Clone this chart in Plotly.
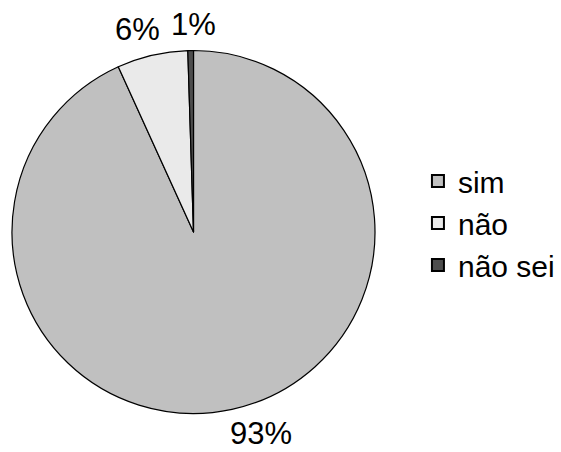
import math
import plotly.graph_objects as go

categories = ["sim", "não", "não sei"]
values = [93.2, 6.3, 0.5]
labels_text = ["93%", "6%", "1%"]
colors = ["#c0c0c0", "#eaeaea", "#4d4d4d"]

W, H = 561, 452
cx, cy, r = 193.5, 232, 181.5
FONT = "Liberation Sans, Arial, sans-serif"
# small per-label pixel nudges (layout only)
nudges = [(-5, -2), (11, 1), (3, 0)]

fig = go.Figure(go.Pie(
    labels=categories,
    values=values,
    textinfo="none",
    sort=False,
    direction="clockwise",
    rotation=0,
    marker=dict(colors=colors, line=dict(color="black", width=1.2)),
    domain=dict(x=[(cx - r) / W, (cx + r) / W], y=[(H - cy - r) / H, (H - cy + r) / H]),
    showlegend=True,
))

# outside labels placed at each slice's mid angle
total = sum(values)
cum = 0.0
gap = 8
for v, t, (ndx, ndy) in zip(values, labels_text, nudges):
    mid = (cum + v / 2) / total * 2 * math.pi
    cum += v
    s, c = math.sin(mid), math.cos(mid)
    px = cx + (r + gap) * s + ndx
    py = cy - (r + gap) * c + ndy
    xa = "center" if abs(s) < 0.1 else ("left" if s > 0 else "right")
    ya = "middle" if abs(c) < 0.3 else ("bottom" if c > 0 else "top")
    fig.add_annotation(x=px / W, y=1 - py / H, xref="paper", yref="paper",
                       text=t, showarrow=False, xanchor=xa, yanchor=ya,
                       borderpad=0,
                       font=dict(family=FONT, size=31, color="black"))

fig.update_layout(
    width=W, height=H,
    margin=dict(l=0, r=0, t=0, b=0),
    paper_bgcolor="white",
    plot_bgcolor="white",
    font=dict(family=FONT, size=30, color="black"),
    legend=dict(x=0.745, y=1 - 223 / H, xanchor="left", yanchor="middle",
                font=dict(size=30), itemsizing="constant", tracegroupgap=0),
)

fig.write_html("out.html", config={"displayModeBar": False},
               post_script="document.body.style.margin='0';")
